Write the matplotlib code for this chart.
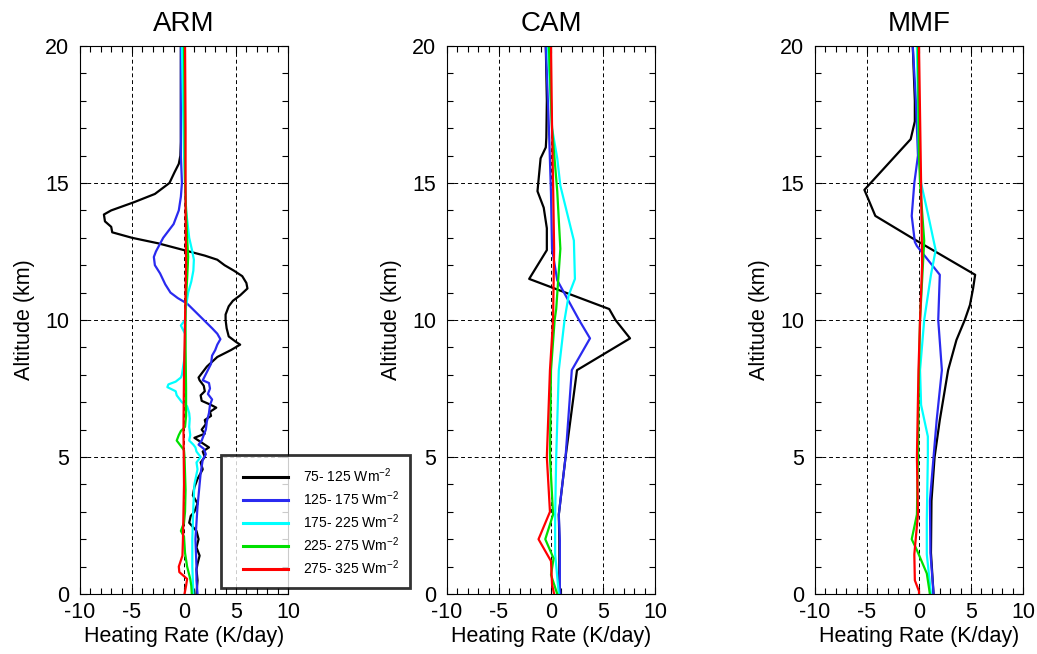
import matplotlib
matplotlib.use("Agg")
import matplotlib.pyplot as plt
from matplotlib.ticker import MultipleLocator
from matplotlib.lines import Line2D
from matplotlib.legend_handler import HandlerLine2D
from matplotlib.transforms import ScaledTranslation

plt.rcParams["font.family"] = ["Liberation Sans", "DejaVu Sans"]
plt.rcParams["mathtext.fontset"] = "custom"
plt.rcParams["mathtext.rm"] = "Liberation Sans"
plt.rcParams["mathtext.it"] = "Liberation Sans"
plt.rcParams["axes.unicode_minus"] = False

# ---- data (altitude in km, heating rate in K/day) ----
titles = ["ARM", "CAM", "MMF"]
bin_labels = ["75- 125 Wm$^{-2}$", "125- 175 Wm$^{-2}$", "175- 225 Wm$^{-2}$",
              "225- 275 Wm$^{-2}$", "275- 325 Wm$^{-2}$"]
colors = ["black", "#2a2af0", "cyan", "#00e000", "red"]

# ARM
arm_z_black = [20, 18, 16.5, 16, 15.7, 15.4, 15, 14.6, 14.3, 14, 13.85, 13.6, 13.4, 13.2, 13, 12.8,
               12.55, 12.35, 12.2, 12, 11.8, 11.6, 11.35, 11.15, 10.9, 10.7, 10.5, 10.2, 10, 9.7,
               9.4, 9.2, 9.1, 8.9, 8.65, 8.3, 7.9, 7.8, 7.6, 7.4, 7.25, 7.05, 6.9, 6.8, 6.65, 6.5,
               6.35, 6.2, 6.0, 5.85, 5.7, 5.55, 5.35, 5.2, 5.0, 4.8, 4.55, 4.2, 3.9, 3.6, 3.3, 3.0,
               2.85, 2.6, 2.3, 2.0, 1.7, 1.4, 1.1, 0.9, 0.5, 0]
arm_q_black = [-0.3, -0.3, -0.3, -0.35, -0.5, -0.9, -1.4, -2.8, -4.8, -7.0, -7.7, -7.6, -7.0, -6.9,
               -5.0, -2.5, 0.0, 2.0, 3.2, 3.9, 4.8, 5.6, 6.0, 6.1, 5.4, 4.7, 4.3, 4.0, 4.0, 4.1,
               4.3, 5.0, 5.4, 4.5, 3.2, 2.2, 1.4, 1.5, 1.9, 2.0, 1.6, 1.7, 2.6, 3.1, 2.5, 2.6,
               2.0, 2.1, 1.7, 2.0, 1.0, 1.6, 2.4, 1.8, 2.0, 1.6, 1.8, 1.3, 1.0, 0.85, 1.3, 1.0,
               0.65, 0.5, 1.2, 1.4, 1.2, 1.5, 1.3, 1.2, 1.3, 1.2]
arm_z_blue = [20, 18, 16, 15, 14.5, 14, 13.5, 13, 12.5, 12.3, 12, 11.7, 11.3, 11, 10.8, 10.6, 10.3,
              10, 9.7, 9.5, 9.3, 9.1, 8.9, 8.7, 8.4, 8.1, 7.8, 7.7, 7.5, 7.3, 7.1, 6.9, 6.6, 6.3,
              6.0, 5.8, 5.6, 5.45, 5.3, 5.1, 4.9, 4.4, 3.8, 3.2, 2.6, 2.0, 1.5, 1.0, 0.5, 0]
arm_q_blue = [-0.3, -0.3, -0.3, -0.2, -0.3, -0.5, -1.0, -2.0, -2.7, -2.9, -2.8, -2.3, -1.8, -1.3,
              -0.6, 0.3, 1.1, 1.9, 2.7, 3.2, 3.5, 3.2, 3.0, 2.7, 2.6, 2.2, 1.8, 2.4, 2.5, 2.3, 2.7,
              2.5, 2.4, 2.2, 2.1, 1.9, 1.7, 1.4, 1.9, 2.1, 1.8, 1.6, 1.45, 1.3, 1.2, 1.1, 1.15,
              1.2, 1.2, 1.3]
arm_z_cyan = [20, 18, 16, 14, 13, 12.5, 12.2, 11.8, 11.4, 11, 10.5, 10, 9.8, 9.5, 9, 8.5, 8, 7.9,
              7.75, 7.65, 7.55, 7.4, 7.25, 7.15, 7.0, 6.85, 6.6, 6.4, 6.1, 5.8, 5.6, 5.45, 5.35,
              5.2, 5.0, 4.8, 4.55, 4.0, 3.2, 2.0, 1.0, 0.5, 0]
arm_q_cyan = [-0.2, -0.1, 0.0, 0.2, 0.5, 0.8, 0.95, 0.9, 0.7, 0.4, 0.2, 0.1, -0.3, 0.1, 0.1, 0.0,
              -0.2, -0.3, -0.8, -1.5, -1.6, -0.8, -0.7, -0.5, -0.2, 0.3, 0.5, 0.55, 0.5, 0.6, 0.5,
              0.9, 1.1, 1.2, 1.6, 1.2, 1.3, 1.0, 0.9, 0.8, 0.8, 0.85, 0.9]
arm_z_green = [20, 18, 15, 13, 12.3, 11.5, 10.5, 9, 7.5, 6.5, 6.1, 5.95, 5.8, 5.6, 5.45, 5.25, 5.0,
               4.4, 3.8, 3.0, 2.6, 2.3, 2.1, 1.5, 1.0, 0.55, 0.3, 0]
arm_q_green = [0.0, 0.05, 0.1, 0.3, 0.4, 0.3, 0.15, 0.15, 0.2, 0.2, 0.1, -0.3, -0.5, -0.7, -0.4,
               0.0, 0.05, 0.1, 0.15, 0.1, 0.0, -0.3, 0.0, 0.1, 0.3, 0.6, 0.7, 0.75]
arm_z_red = [20, 17, 14, 12, 10, 8, 6, 4, 2, 1.4, 1.0, 0.8, 0.55, 0.3, 0]
arm_q_red = [0.1, 0.15, 0.15, 0.2, 0.1, 0.0, -0.05, 0.0, -0.1, -0.15, -0.5, -0.45, 0.3, 0.2, 0.05]

# CAM
cam_z_black = [20, 18, 16.65, 16.3, 15.9, 14.7, 14.1, 13.35, 12.55, 11.5, 10.4, 10, 9.33, 8.17,
               5, 2.9, 1.95, 0.25, 0]
cam_q_black = [-0.5, -0.4, -0.45, -0.5, -1.0, -1.3, -0.7, -0.4, -0.4, -2.1, 5.6, 6.2, 7.6, 2.5,
               1.4, 0.75, 0.8, 0.8, 0.9]
cam_z_blue = [20, 17, 14.6, 12.6, 11.45, 10, 9.33, 8.17, 5, 2.9, 1.95, 0.25, 0]
cam_q_blue = [-0.5, -0.2, 0.0, 0.1, 0.6, 2.7, 3.75, 2.0, 1.4, 0.75, 0.85, 0.85, 0.9]
cam_z_cyan = [20, 17, 15.9, 14.9, 12.9, 11.5, 10.9, 10, 8.17, 5, 2.9, 1.45, 0]
cam_q_cyan = [-0.3, 0.1, 0.6, 0.9, 2.2, 2.3, 1.7, 1.3, 0.75, 0.5, 0.4, 0.4, 0.75]
cam_z_green = [20, 17, 14.7, 12.6, 10.4, 10, 8.17, 5, 2.9, 2.0, 1.3, 0.7, 0]
cam_q_green = [-0.2, 0.1, 0.6, 0.9, 0.5, 0.35, 0.0, -0.1, 0.2, -0.55, 0.25, 0.0, 0.6]
cam_z_red = [20, 17, 15, 12.6, 10, 8.17, 5, 3.0, 2.0, 1.2, 0.35, 0]
cam_q_red = [0.0, 0.1, 0.2, 0.3, 0.2, -0.1, -0.4, -0.1, -1.2, 0.0, 0.1, 0.3]

# MMF
mmf_z_black = [20, 18, 17.25, 16.6, 14.75, 13.8, 13.0, 11.65, 11.15, 10.55, 10, 9.27, 8.17, 6.35,
               5, 3.4, 1.5, 0]
mmf_q_black = [-0.6, -0.4, -0.4, -0.8, -5.25, -4.2, -0.7, 5.4, 5.2, 4.9, 4.4, 3.6, 2.8, 2.0,
               1.5, 1.2, 1.15, 1.4]
mmf_z_blue = [20, 18, 16, 15, 13.8, 12.85, 12.7, 11.65, 10, 8.17, 6.35, 5, 3.4, 1.5, 0]
mmf_q_blue = [-0.6, -0.3, -0.1, -0.45, -0.7, -0.4, -0.2, 2.0, 1.85, 2.2, 1.7, 1.4, 1.05, 1.1, 1.4]
mmf_z_cyan = [20, 16, 15, 13.8, 12.55, 11.65, 10, 8.17, 6.9, 5.75, 5, 2.7, 1.45, 0]
mmf_q_cyan = [-0.2, 0.0, 0.2, 0.9, 1.6, 1.15, 0.5, 0.1, 0.2, 0.85, 0.85, 0.75, 0.75, 1.15]
mmf_z_green = [20, 16, 15, 12.9, 10, 8.17, 5, 2.9, 2.0, 1.6, 0.75, 0]
mmf_q_green = [-0.1, 0.0, 0.1, 0.5, 0.1, 0.0, -0.1, -0.2, -0.7, -0.2, 0.75, 1.05]
mmf_z_red = [20, 15, 12, 10, 8.17, 5, 2.9, 1.45, 0.5, 0.1, 0]
mmf_q_red = [0.0, 0.2, 0.3, 0.1, -0.05, -0.2, -0.1, -0.45, -0.4, 0.0, 0.0]

panels = [
    [(arm_q_black, arm_z_black), (arm_q_blue, arm_z_blue), (arm_q_cyan, arm_z_cyan),
     (arm_q_green, arm_z_green), (arm_q_red, arm_z_red)],
    [(cam_q_black, cam_z_black), (cam_q_blue, cam_z_blue), (cam_q_cyan, cam_z_cyan),
     (cam_q_green, cam_z_green), (cam_q_red, cam_z_red)],
    [(mmf_q_black, mmf_z_black), (mmf_q_blue, mmf_z_blue), (mmf_q_cyan, mmf_z_cyan),
     (mmf_q_green, mmf_z_green), (mmf_q_red, mmf_z_red)],
]

# ---- figure ----
W, H = 1037, 654
fig = plt.figure(figsize=(W / 100, H / 100), dpi=100)
lefts = [80, 447, 815]
for i in range(3):
    ax = fig.add_axes([lefts[i] / W, 1 - 594 / H, 208 / W, (594 - 46) / H])
    for (q, z), c in zip(panels[i], colors):
        ax.plot(q, z, color=c, lw=1.6)
    ax.set_xlim(-10, 10)
    ax.set_ylim(0, 20)
    ax.xaxis.set_major_locator(MultipleLocator(5))
    ax.xaxis.set_minor_locator(MultipleLocator(1))
    ax.yaxis.set_major_locator(MultipleLocator(5))
    ax.yaxis.set_minor_locator(MultipleLocator(1))
    ax.tick_params(which="both", direction="in", top=True, right=True, labelsize=15.5,
                   width=0.8)
    ax.tick_params(axis="x", which="major", pad=6)
    ax.tick_params(axis="y", which="major", pad=8)
    ax.tick_params(which="major", length=5)
    ax.tick_params(which="minor", length=4)
    ax.grid(True, which="major", color="black", linestyle=(0, (4, 3)), lw=0.7)
    for s in ax.spines.values():
        s.set_linewidth(0.8)
    ax.set_title(titles[i], fontsize=20, pad=11)
    ax.set_xlabel("Heating Rate (K/day)", fontsize=15.5, labelpad=2)
    ax.set_ylabel("Altitude (km)", fontsize=15.5, labelpad=7)
    # lift the bottom "0" a little, as in the original, so it clears "-10"
    fig.canvas.draw()
    lab0 = ax.yaxis.get_majorticklabels()[0]
    lab0.set_transform(lab0.get_transform() + ScaledTranslation(0, 6 / 100, fig.dpi_scale_trans))

handles = [Line2D([], [], color=c, lw=2.2) for c in colors]
leg = fig.legend(handles, bin_labels, loc="lower left",
                 bbox_to_anchor=(221 / W, 1 - 588 / H), borderaxespad=0,
                 fontsize=10, frameon=True, fancybox=False, edgecolor="black",
                 handlelength=4.0, handletextpad=1.1, labelspacing=0.32,
                 borderpad=0.8, handler_map={Line2D: HandlerLine2D(xpad=0.8)})
leg.get_frame().set_linewidth(2)

fig.savefig("out.png", dpi=100)
